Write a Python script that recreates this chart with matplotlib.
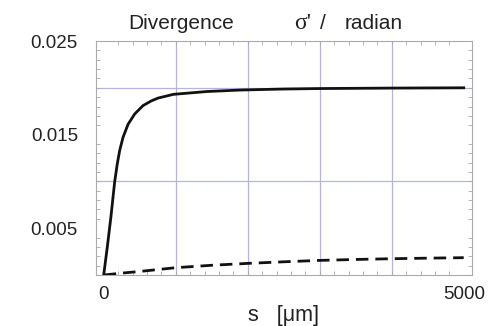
import matplotlib
matplotlib.use("Agg")
import matplotlib.pyplot as plt
from matplotlib.ticker import MultipleLocator, FixedLocator

plt.rcParams['font.family'] = ['Liberation Sans', 'DejaVu Sans']

# divergence along s (micrometres)
s_solid = [0, 50, 100, 153, 189, 222, 268, 338, 430, 546, 661, 754, 967,
           1430, 1893, 2500, 3000, 4000, 5000]
sig_solid = [0.0, 0.0030, 0.0062, 0.0100, 0.0119, 0.0133, 0.0147, 0.0161,
             0.0172, 0.0181, 0.0186, 0.0189, 0.0193, 0.0196, 0.01976,
             0.01987, 0.01992, 0.01997, 0.0200]

s_dash = [0, 250, 500, 1000, 1500, 2000, 2500, 3000, 3500, 4000, 4500, 5000]
sig_dash = [0.0, 0.00020, 0.00038, 0.00078, 0.00104, 0.00124, 0.00141,
            0.00156, 0.00166, 0.00174, 0.00180, 0.00185]

x_ticks = [0, 5000]
y_ticks = [0.005, 0.015, 0.025]
y_ticklabels = ["0.005", "0.015", "0.025"]
x_grid = [1000, 2000, 3000, 4000]
y_grid = [0.01, 0.02]

fig = plt.figure(figsize=(4.96, 3.26), dpi=100)
ax = fig.add_axes([96 / 496, 1 - 275 / 326, 376 / 496, 234 / 326])

for gx in x_grid:
    ax.axvline(gx, color='#b4b4dc', lw=0.9, zorder=1)
for gy in y_grid:
    ax.axhline(gy, color='#b4b4dc', lw=0.9, zorder=1)

ax.plot(s_solid, sig_solid, color='#111111', lw=2.0, zorder=3,
        solid_joinstyle='round')
ax.plot(s_dash, sig_dash, color='#111111', lw=2.0, dashes=(4.5, 2.5),
        zorder=3)

ax.set_xlim(-107, 5115)
ax.set_ylim(0, 0.025)

ax.xaxis.set_major_locator(FixedLocator(x_ticks))
ax.yaxis.set_major_locator(FixedLocator(y_ticks))
ax.set_yticklabels(y_ticklabels)
ax.xaxis.set_minor_locator(MultipleLocator(200))
ax.yaxis.set_minor_locator(MultipleLocator(0.001))

ax.tick_params(which='major', length=0, labelsize=13.5, pad=8,
               labelcolor='#222222')
ax.tick_params(axis='y', which='major', pad=13)
ax.tick_params(which='minor', direction='in', length=3, width=0.6,
               color='#aaaaaa', top=True, right=True)

for sp in ax.spines.values():
    sp.set_color('#aaaaaa')
    sp.set_linewidth(0.8)

ax.set_xlabel("s   [\u03bcm]", fontsize=15.5, labelpad=1, color='#222222')

# header line, all pieces on one baseline
base_y = 1 - 29 / 326
fig.text(128 / 496, base_y, "Divergence", fontsize=15,
         va='baseline', ha='left', color='#222222')
fig.text(294 / 496, base_y, "\u03c3'", fontsize=17,
         va='baseline', ha='left', color='#222222', family='Liberation Serif')
fig.text(320 / 496, base_y, "/", fontsize=15,
         va='baseline', ha='left', color='#222222')
fig.text(345 / 496, base_y, "radian", fontsize=15,
         va='baseline', ha='left', color='#222222')

fig.savefig("out.png", dpi=100)
